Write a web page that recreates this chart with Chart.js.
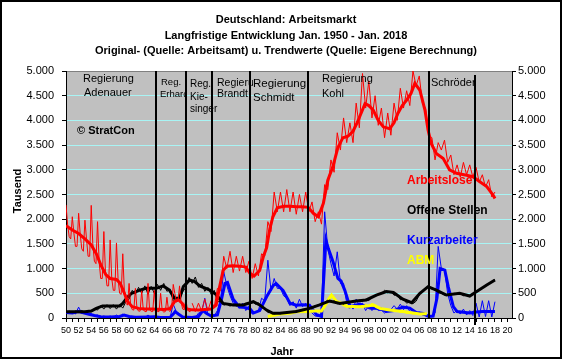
<!DOCTYPE html>
<html>
<head>
<meta charset="utf-8">
<script src="https://cdn.jsdelivr.net/npm/chart.js@4.4.1/dist/chart.umd.min.js"></script>
<style>
html, body { margin: 0; padding: 0; background: #fff; }
canvas { display: block; }
</style>
</head>
<body>
<canvas id="grafico-arbeitsmarkt" width="563" height="360"></canvas>
<script>
// ==================== DATEN ====================
// Arbeitslose (Tsd.), Rohwerte: vierteljährlich 1950-1969 (Jan, Apr, Jul, Okt)
const arbeitsloseRohQuartal = [
    2290, 1900, 1650, 1600,   2050, 1720, 1450, 1450,   2120, 1700, 1400, 1350,
    1980, 1600, 1250, 1250,   2280, 1500, 1150, 1100,   1950, 1150, 800, 800,
    1750, 950, 650, 650,      1580, 800, 560, 560,      1520, 800, 500, 480,
    1300, 550, 300, 260,      700, 250, 170, 160,       600, 190, 140, 140,
    550, 170, 130, 130,       700, 170, 130, 130,       560, 170, 130, 130,
    500, 150, 120, 130,       420, 160, 130, 200,       680, 500, 330, 340,
    650, 320, 180, 170,       380, 170, 130, 130
];
// Arbeitslose, Rohwerte: halbjährlich ab 1970 (Jan, Jul)
const arbeitsloseRohHalbjahr = [
    300, 130, 300, 140, 380, 150, 350, 220, 600, 550,
    1250, 1000, 1350, 920, 1250, 950, 1250, 920, 1150, 800,
    1100, 850, 1300, 1250, 1950, 1750, 2550, 2150, 2550, 2150,
    2600, 2150, 2550, 2100, 2500, 2150, 2550, 2150, 2350, 1950,
    2150, 1900, 2700, 2600, 3200, 2950, 3750, 3400, 4050, 3550,
    3950, 3550, 4350, 3850, 4950, 4250, 4800, 4050, 4500, 3900,
    4250, 3650, 4150, 3700, 4350, 4000, 4650, 4250, 4600, 4300,
    5000, 4700, 4900, 4350, 4250, 3700, 3650, 3200, 3550, 3400,
    3600, 3150, 3300, 2900, 3100, 2850, 3150, 2900, 3100, 2850,
    3050, 2750, 2900, 2650, 2800, 2450, 2550
];
const arbeitsloseTrendJahre = [
    1950, 1951, 1952, 1953, 1954, 1954.8, 1955.5, 1956.3, 1957, 1958,
    1958.6, 1959.2, 1959.8, 1960.5, 1961.5, 1962.5, 1963.5, 1964.5, 1965.5, 1966.5,
    1967.2, 1967.8, 1968.4, 1969, 1970, 1971, 1972, 1973, 1973.8, 1974.3,
    1974.9, 1975.5, 1976.5, 1977.5, 1978.5, 1979.2, 1979.8, 1980.7, 1981.3, 1981.8,
    1982.3, 1982.8, 1983.5, 1984.5, 1985.5, 1986.5, 1987.5, 1988.4, 1989.2, 1990,
    1990.8, 1991.5, 1992.3, 1993.1, 1993.9, 1994.7, 1995.5, 1996.1, 1996.8, 1997.4,
    1998, 1998.7, 1999.5, 2000.3, 2001.3, 2002, 2002.6, 2003.3, 2004, 2004.7,
    2005.3, 2006.1, 2006.9, 2007.4, 2007.9, 2008.7, 2009.8, 2010.8, 2011.9, 2013.5,
    2014.5, 2015.6, 2016.7, 2017.7, 2018
];
const arbeitsloseTrend = [
    1870, 1780, 1710, 1600, 1480, 1300, 1080, 880, 800, 780,
    700, 520, 330, 230, 195, 180, 180, 175, 170, 190,
    330, 370, 300, 190, 165, 160, 170, 180, 260, 600,
    960, 1050, 1060, 1050, 1030, 900, 850, 960, 1250, 1420,
    1800, 2050, 2230, 2260, 2260, 2250, 2250, 2240, 2120, 2050,
    2320, 2790, 3060, 3450, 3650, 3680, 3780, 3940, 4150, 4340,
    4300, 4210, 4000, 3870, 3830, 3950, 4140, 4300, 4410, 4550,
    4750, 4610, 4210, 3800, 3530, 3330, 3230, 3000, 2930, 2890,
    2860, 2760, 2660, 2490, 2420
];

// Offene Stellen (Tsd.), Rohwerte halbjährlich ab 1950
const offeneStellenRoh = [
    110, 140, 110, 140, 110, 150, 110, 150, 120, 190,
    160, 250, 180, 270, 190, 270, 180, 270, 200, 330,
    380, 560, 480, 620, 500, 650, 480, 640, 500, 680,
    560, 700, 540, 580, 340, 330, 380, 530, 620, 820,
    700, 830, 620, 700, 540, 620, 480, 560, 330, 330,
    260, 280, 240, 280, 240, 280, 250, 300, 290, 340,
    280, 310, 210, 200, 110, 110, 80, 100, 85, 110,
    110, 130, 120, 150, 150, 175, 175, 200, 215, 250,
    250, 300, 320, 360, 320, 350, 290, 310, 280, 320,
    310, 350, 330, 360, 340, 380, 350, 420, 440, 490,
    500, 560, 510, 540, 460, 480, 370, 380, 300, 330,
    290, 340, 470, 540, 610, 650, 580, 600, 510, 500,
    460, 480, 470, 500, 490, 490, 450, 460, 440, 470,
    510, 560, 610, 660, 690, 740, 780
];
const offeneStellenTrendJahre = [
    1950, 1951, 1952, 1953, 1954, 1954.8, 1955.8, 1957, 1958.5, 1959,
    1959.6, 1960.4, 1961.7, 1962.7, 1964.3, 1965.4, 1966.4, 1967.2, 1968, 1968.6,
    1969.6, 1970.4, 1971.2, 1972.8, 1973.9, 1974.9, 1976.5, 1978.1, 1979.7, 1980.7,
    1981.8, 1982.8, 1983.9, 1986.5, 1988.6, 1990.2, 1991.8, 1993.4, 1996, 1997.6,
    1999.2, 2000.8, 2001.9, 2003.4, 2004.8, 2006.1, 2007.4, 2008.7, 2010.3, 2012.4,
    2014, 2015.1, 2016.7, 2018
];
const offeneStellenTrend = [
    125, 125, 125, 125, 140, 195, 245, 245, 245, 295,
    400, 500, 565, 600, 600, 650, 565, 400, 400, 635,
    770, 735, 650, 565, 465, 295, 265, 265, 330, 265,
    160, 95, 95, 130, 195, 265, 345, 295, 345, 365,
    465, 535, 515, 380, 310, 500, 635, 565, 465, 500,
    445, 535, 670, 770
];

// Kurzarbeiter (Tsd.), Rohwerte halbjährlich ab 1950
const kurzarbeiterRoh = [
    130, 90, 120, 80, 220, 90, 110, 70, 90, 40,
    60, 20, 40, 15, 40, 15, 60, 20, 80, 30,
    40, 15, 25, 10, 30, 10, 60, 10, 30, 10,
    20, 5, 25, 10, 280, 120, 80, 15, 20, 5,
    15, 10, 100, 120, 400, 60, 60, 40, 150, 380,
    940, 650, 450, 300, 280, 200, 300, 150, 250, 80,
    120, 150, 400, 350, 1170, 550, 800, 600, 600, 450,
    400, 250, 330, 200, 380, 230, 300, 200, 100, 40,
    30, 60, 2150, 1400, 1100, 850, 1340, 700, 700, 300,
    300, 180, 380, 250, 300, 150, 250, 150, 230, 150,
    160, 100, 150, 170, 250, 180, 280, 170, 250, 130,
    150, 80, 120, 60, 60, 20, 50, 100, 1450, 1000,
    980, 500, 250, 100, 160, 80, 180, 60, 150, 50,
    300, 20, 350, 30, 350, 20, 330
];
const kurzarbeiterTrendJahre = [
    1950, 1951, 1952, 1952.6, 1953.5, 1954.5, 1955.5, 1957, 1958.5, 1959.2,
    1960, 1961, 1963, 1964, 1965, 1966.5, 1967, 1967.3, 1967.8, 1968.5,
    1970, 1971, 1971.7, 1972.3, 1973, 1974, 1974.6, 1975.2, 1975.6, 1976.5,
    1977.5, 1978.5, 1979.2, 1979.7, 1980.7, 1981.8, 1982.8, 1983.3, 1984.4, 1985.5,
    1986.5, 1987.5, 1988.6, 1989.7, 1990.5, 1990.9, 1991.2, 1991.6, 1992.3, 1993.1,
    1993.6, 1994.2, 1995, 1996.6, 1998.2, 1999.8, 2000.8, 2002, 2003.4, 2004.5,
    2005.5, 2006.6, 2007.5, 2008.2, 2008.8, 2009.3, 2010.05, 2010.6, 2011.4, 2012,
    2014, 2015, 2016, 2017, 2018
];
const kurzarbeiterTrend = [
    110, 100, 130, 110, 80, 50, 25, 20, 30, 60,
    30, 15, 20, 25, 10, 15, 80, 130, 80, 20,
    10, 30, 150, 90, 40, 60, 350, 700, 720, 380,
    220, 210, 180, 100, 150, 430, 650, 700, 560, 300,
    260, 270, 260, 70, 30, 900, 1580, 1400, 1150, 800,
    750, 560, 230, 280, 200, 190, 130, 150, 220, 200,
    110, 90, 30, 40, 400, 1000, 970, 630, 230, 130,
    100, 120, 130, 130, 130
];

// ABM (Tsd.), Rohwerte halbjährlich ab 1982
const abmRoh = [
    30, 60, 60, 90, 70, 100, 80, 110, 100, 130,
    110, 140, 110, 150, 120, 150, 130, 150, 200, 400,
    480, 400, 330, 300, 250, 270, 220, 250, 210, 240,
    200, 280, 230, 300, 220, 190, 170, 190, 150, 170,
    140, 150, 110, 130, 90, 110, 80, 100, 70, 90,
    80
];
const abmTrendJahre = [
    1982, 1983.9, 1985.5, 1986.5, 1988.1, 1989.2, 1990.5, 1991.3, 1992.1, 1992.9,
    1993.7, 1994.5, 1996.6, 1998, 1998.7, 1999.8, 2001.3, 2003.4, 2006.1, 2007.2
];
const abmTrend = [
    30, 80, 95, 125, 130, 140, 140, 300, 465, 330,
    295, 240, 230, 250, 265, 195, 160, 130, 80, 85
];

// Regierungswechsel (Lage der senkrechten Linien, Jahr)
const regierungsWechsel = [1964.3, 1969.0, 1973.15, 1979.2, 1988.4, 2007.5, 2014.9];

// ==================== HILFSFUNKTIONEN ====================
function reihe(start, schritt, werte) {
    return werte.map((v, i) => ({ x: start + i * schritt, y: v }));
}

function paare(jahre, werte) {
    return jahre.map((j, i) => ({ x: j, y: werte[i] }));
}

function tausender(v) {
    if (v < 1000) return String(v);
    return Math.floor(v / 1000) + '.' + String(v % 1000).padStart(3, '0');
}

function linie(label, daten, farbe, breite) {
    return {
        label: label,
        data: daten,
        borderColor: farbe,
        backgroundColor: farbe,
        borderWidth: breite,
        pointRadius: 0,
        tension: 0,
        fill: false
    };
}

function text(ctx, s, x, y, font, farbe, align) {
    ctx.font = font;
    ctx.fillStyle = farbe;
    ctx.textAlign = align || 'left';
    ctx.textBaseline = 'middle';
    ctx.fillText(s, x, y);
}

const SCHRIFT = '"Liberation Sans", Arial, sans-serif';

// ==================== PLUGIN ====================
const zeichenPlugin = {
    id: 'zeichenPlugin',
    beforeDraw(chart) {
        const ctx = chart.ctx;
        const a = chart.chartArea;
        ctx.save();
        ctx.fillStyle = '#ffffff';
        ctx.fillRect(0, 0, chart.width, chart.height);
        ctx.fillStyle = '#c0c0c0';
        ctx.fillRect(a.left, a.top, a.right - a.left, a.bottom - a.top);
        ctx.strokeStyle = '#808080';
        ctx.lineWidth = 1;
        ctx.beginPath();
        ctx.moveTo(a.left, a.top + 0.5);
        ctx.lineTo(a.right, a.top + 0.5);
        ctx.stroke();
        ctx.restore();
    },
    afterDatasetsDraw(chart) {
        const ctx = chart.ctx;
        const a = chart.chartArea;
        const x = chart.scales.x;
        ctx.save();

        // senkrechte Linien
        ctx.strokeStyle = '#000';
        ctx.lineWidth = 2;
        regierungsWechsel.forEach((j, i) => {
            const px = Math.round(x.getPixelForValue(j));
            const letzte = i === regierungsWechsel.length - 1;
            ctx.beginPath();
            ctx.moveTo(px, letzte ? a.top + 4 : a.top);
            ctx.lineTo(px, letzte ? a.bottom + 7 : a.bottom);
            ctx.stroke();
        });

        // Regierungen
        text(ctx, 'Regierung', 83, 79, '11px ' + SCHRIFT, '#000');
        text(ctx, 'Adenauer', 84, 93, '11px ' + SCHRIFT, '#000');

        text(ctx, 'Reg.', 161, 82, '9.5px ' + SCHRIFT, '#000');
        ctx.save();
        ctx.beginPath();
        ctx.rect(150, 60, 35, 60);
        ctx.clip();
        text(ctx, 'Erhard', 160, 94, '9.5px ' + SCHRIFT, '#000');
        ctx.restore();

        text(ctx, 'Reg.', 190, 84, '10px ' + SCHRIFT, '#000');
        text(ctx, 'Kie-', 190, 97, '10px ' + SCHRIFT, '#000');
        text(ctx, 'singer', 190, 109, '10px ' + SCHRIFT, '#000');

        ctx.save();
        ctx.beginPath();
        ctx.rect(214, 60, 39, 60);
        ctx.clip();
        text(ctx, 'Regierung', 217, 83, '10.5px ' + SCHRIFT, '#000');
        ctx.restore();
        text(ctx, 'Brandt', 217, 94, '10.5px ' + SCHRIFT, '#000');

        text(ctx, 'Regierung', 253, 84, '11.5px ' + SCHRIFT, '#000');
        text(ctx, 'Schmidt', 253, 98, '11.5px ' + SCHRIFT, '#000');

        text(ctx, 'Regierung', 322, 79, '11px ' + SCHRIFT, '#000');
        text(ctx, 'Kohl', 322, 94, '11px ' + SCHRIFT, '#000');

        text(ctx, 'Schröder', 431, 83, '11px ' + SCHRIFT, '#000');

        text(ctx, '© StratCon', 77, 131, 'bold 11px ' + SCHRIFT, '#000');

        // Reihenbeschriftungen
        text(ctx, 'Arbeitslose', 407, 181, 'bold 12px ' + SCHRIFT, '#ff0000');
        text(ctx, 'Offene Stellen', 407, 211, 'bold 12px ' + SCHRIFT, '#000000');
        text(ctx, 'Kurzarbeiter', 407, 241, 'bold 12px ' + SCHRIFT, '#0000ff');
        text(ctx, 'ABM', 407, 261, 'bold 12px ' + SCHRIFT, '#ffff00');

        ctx.restore();
    },
    afterDraw(chart) {
        const ctx = chart.ctx;
        ctx.save();
        text(ctx, 'Deutschland: Arbeitsmarkt', 286, 20, 'bold 11px ' + SCHRIFT, '#000', 'center');
        text(ctx, 'Langfristige Entwicklung Jan. 1950 - Jan. 2018', 286, 35.5, 'bold 11px ' + SCHRIFT, '#000', 'center');
        text(ctx, 'Original- (Quelle: Arbeitsamt) u. Trendwerte (Quelle: Eigene Berechnung)', 286, 51, 'bold 11px ' + SCHRIFT, '#000', 'center');

        text(ctx, 'Jahr', 282, 352, 'bold 11px ' + SCHRIFT, '#000', 'center');

        ctx.save();
        ctx.translate(18, 191);
        ctx.rotate(-Math.PI / 2);
        text(ctx, 'Tausend', 0, 0, 'bold 11px ' + SCHRIFT, '#000', 'center');
        ctx.restore();

        ctx.strokeStyle = '#000';
        ctx.lineWidth = 2;
        ctx.strokeRect(1, 1, 560, 357);
        ctx.restore();
    }
};

// ==================== GRAFIK ====================
const jahresMarken = [];
for (let j = 1950; j <= 2020; j++) jahresMarken.push(j);
const wertMarken = [];
for (let v = 0; v <= 5000; v += 250) wertMarken.push(v);

const yTicks = {
    color: '#000',
    font: { family: SCHRIFT, size: 11 },
    callback: v => (v % 500 === 0 ? tausender(v) : '')
};

const ctxGrafico = document.getElementById('grafico-arbeitsmarkt');

new Chart(ctxGrafico, {
    type: 'line',
    data: {
        datasets: [
            linie('Arbeitslose Trend', paare(arbeitsloseTrendJahre, arbeitsloseTrend), '#ff0000', 3),
            linie('Arbeitslose', reihe(1950, 0.25, arbeitsloseRohQuartal), '#ff0000', 1),
            linie('Arbeitslose ab 1970', reihe(1970, 0.5, arbeitsloseRohHalbjahr), '#ff0000', 1),
            linie('Offene Stellen Trend', paare(offeneStellenTrendJahre, offeneStellenTrend), '#000000', 3),
            linie('Offene Stellen', reihe(1950, 0.5, offeneStellenRoh), '#000000', 1),
            linie('ABM Trend', paare(abmTrendJahre, abmTrend), '#ffff00', 3),
            linie('ABM', reihe(1982, 0.5, abmRoh), '#ffff00', 1),
            linie('Kurzarbeiter Trend', paare(kurzarbeiterTrendJahre, kurzarbeiterTrend), '#0000ff', 3),
            linie('Kurzarbeiter', reihe(1950, 0.5, kurzarbeiterRoh), '#0000ff', 1)
        ]
    },
    options: {
        responsive: false,
        animation: false,
        devicePixelRatio: 1,
        layout: { padding: { top: 71, left: 0, right: 0, bottom: 0 } },
        plugins: {
            legend: { display: false },
            tooltip: { enabled: false }
        },
        scales: {
            x: {
                type: 'linear',
                min: 1950,
                max: 2020.7,
                afterBuildTicks: axis => { axis.ticks = jahresMarken.map(v => ({ value: v })); },
                afterFit: s => { s.height = 42; },
                ticks: {
                    color: '#000',
                    font: { family: SCHRIFT, size: 9 },
                    maxRotation: 0,
                    autoSkip: false,
                    padding: 3,
                    callback: v => (v % 2 === 0 ? String(v).slice(2) : '')
                },
                grid: {
                    drawOnChartArea: false,
                    tickColor: '#000',
                    tickLength: 4
                },
                border: { color: '#000', width: 1 }
            },
            y: {
                position: 'left',
                min: 0,
                max: 5000,
                afterBuildTicks: axis => { axis.ticks = wertMarken.map(v => ({ value: v })); },
                afterFit: s => { s.width = 66; },
                ticks: Object.assign({ padding: 8 }, yTicks),
                grid: {
                    color: c => {
                        const v = c.tick ? c.tick.value : 0;
                        return (v % 500 === 0 && v > 0 && v < 5000) ? '#a8f4f4' : 'rgba(0,0,0,0)';
                    },
                    tickColor: '#000',
                    tickLength: 4
                },
                border: { color: '#000', width: 1 }
            },
            y2: {
                position: 'right',
                min: 0,
                max: 5000,
                afterBuildTicks: axis => { axis.ticks = wertMarken.map(v => ({ value: v })); },
                afterFit: s => { s.width = 51; },
                ticks: Object.assign({ padding: 2 }, yTicks),
                grid: {
                    drawOnChartArea: false,
                    tickColor: '#000',
                    tickLength: 4
                },
                border: { color: '#000', width: 1 }
            }
        }
    },
    plugins: [zeichenPlugin]
});
</script>
</body>
</html>
